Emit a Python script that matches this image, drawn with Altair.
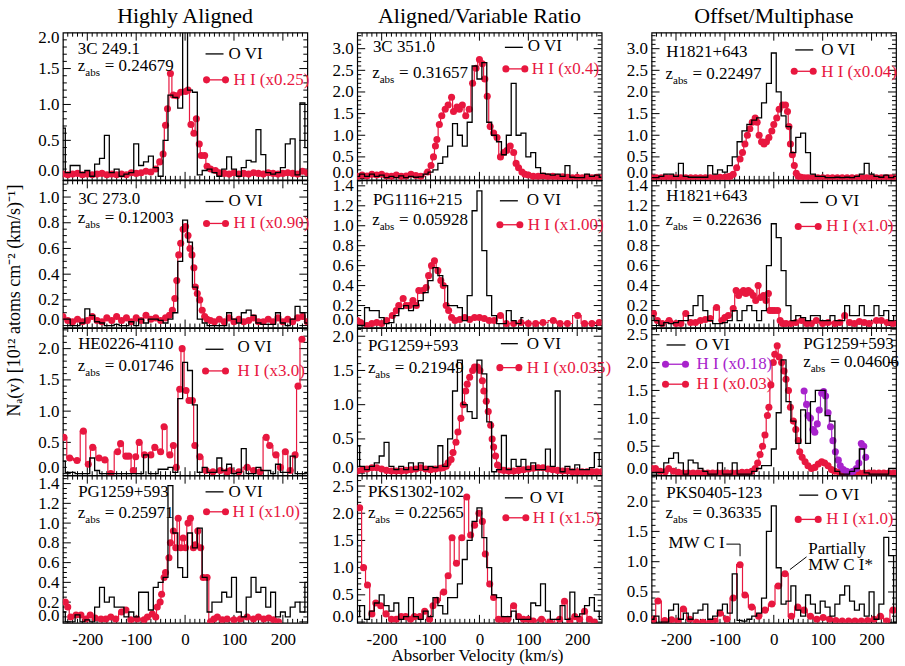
import altair as alt
import pandas as pd

FONT = "Liberation Serif"
RED = "#e8173f"
PURPLE = "#a823cc"
W, H = 245, 147.5
FS = 17
DOT = 50

V10 = list(range(-250, 251, 10))
X_LABELS = [-200, -100, 0, 100, 200]
X_MINOR = [v for v in range(-240, 250, 10) if v % 100 != 0]
COL_TITLES = ["Highly Aligned", "Aligned/Variable Ratio", "Offset/Multiphase"]
X_TITLE = "Absorber Velocity (km/s)"
Y_TITLE = "Nₐ(v) [10¹² atoms cm⁻² (km/s)⁻¹]"

# ---------------- O VI (10 km/s bins, v = -250 ... 250) ----------------
OVI_11 = [0.67, 0.05, 0.15, 0.15, 0.05, 0.08, 0.00, 0.17, 0.25, 0.57,
          0.05, 0.10, 0.00, 0.03, 0.05, 0.45, 0.15, 0.20, 0.28, 0.12,
          0.00, 0.50, 1.13, 1.10, 0.95, 2.20, 1.20, 1.17, 0.02, 0.08,
          0.10, 0.05, 0.00, 0.10, 0.27, 0.10, 0.00, 0.12, 0.22, 0.20,
          0.65, 0.30, 0.05, 0.03, 0.05, 0.12, 0.45, 0.52, 0.02, 1.02, 0.40]
OVI_12 = [0.05, 0.10, 0.05, 0.10, 0.05, 0.08, 0.02, 0.05, 0.02, 0.06,
          0.02, 0.05, 0.03, 0.04, 0.10, 0.15, 0.20, 0.35, 0.50, 0.75,
          1.27, 1.00, 0.75, 1.30, 2.60, 2.30, 2.68, 1.30, 1.00, 0.85,
          0.55, 1.00, 2.20, 1.00, 1.05, 0.50, 0.60, 0.25, 0.12, 0.10,
          0.08, 0.10, 0.05, 0.30, 0.03, 0.02, 0.02, 0.10, 0.05, 0.08, 0.03]
OVI_13 = [0.02, 0.02, 0.05, 0.10, 0.10, 0.05, 0.35, 0.05, 0.03, 0.03,
          0.03, 0.03, 0.30, 0.10, 0.20, 0.15, 0.30, 0.50, 0.85, 1.10,
          1.25, 1.35, 1.40, 1.75, 2.20, 2.90, 2.00, 1.45, 1.20, 0.60,
          0.95, 1.05, 0.60, 0.10, 0.05, 0.05, 0.02, 0.02, 0.03, 0.02,
          0.03, 0.02, 0.05, 0.10, 0.35, 0.10, 0.05, 0.03, 0.08, 0.02, 0.05]
OVI_21 = [0.05, 0.05, 0.00, 0.00, 0.02, 0.13, 0.08, 0.03, 0.02, 0.00,
          0.00, 0.01, 0.00, 0.00, 0.03, 0.00, 0.05, 0.02, 0.05, 0.05,
          0.04, 0.02, 0.05, 0.10, 0.50, 0.82, 0.65, 0.30, 0.05, 0.02,
          0.00, 0.00, 0.00, 0.00, 0.10, 0.05, 0.02, 0.10, 0.12, 0.08,
          0.02, 0.01, 0.01, 0.01, 0.10, 0.02, 0.00, 0.05, 0.15, 0.10, 0.02]
OVI_22 = [0.00, 0.00, 0.18, 0.15, 0.15, 0.08, 0.02, 0.03, 0.10, 0.17,
          0.20, 0.15, 0.20, 0.25, 0.33, 0.45, 0.58, 0.50, 0.40, 0.20,
          0.20, 0.18, 0.05, 0.30, 1.15, 1.35, 0.75, 0.30, 0.10, 0.02,
          0.02, 0.15, 0.05, 0.02, 0.08]
OVI_23 = [0.10, 0.05, 0.00, 0.03, 0.02, 0.03, 0.05, 0.05, 0.10, 0.20,
          0.30, 0.15, 0.05, 0.02, 0.02, 0.03, 0.05, 0.15, 0.05, 0.15,
          0.20, 0.15, 0.05, 0.15, 0.60, 1.02, 0.88, 0.55, 0.20, 0.05,
          0.10, 0.08, 0.05, 0.10, 0.10, 0.05, 0.05, 0.10, 0.05, 0.05,
          0.20, 0.10, 0.10, 0.20, 0.10, 0.10, 0.20, 0.10, 0.15, 0.05, 0.10]
OVI_31 = [0.20, 0.02, 0.02, 0.00, 0.00, 0.00, 0.25, 0.05, 0.00, 0.00,
          0.00, 0.00, 0.00, 0.00, 0.00, 0.00, 0.00, 0.30, 0.00, 0.00,
          0.07, 0.07, 0.10, 0.02, 1.20, 1.78, 1.65, 1.10, 0.02, 0.10,
          0.02, 0.02, 0.25, 0.05, 0.15, 0.00, 0.02, 0.40, 0.00, 0.00,
          0.10, 0.05, 0.05, 0.00, 0.15, 0.02, 0.02, 0.28, 0.00, 0.00, 0.02]
OVI_32 = [0.40, 0.10, 0.05, 0.10, 0.15, 0.25, 0.45, 0.10, 0.05, 0.10,
          0.05, 0.15, 0.05, 0.15, 0.05, 0.10, 0.08, 0.40, 0.10, 0.50,
          1.20, 1.65, 1.00, 0.90, 0.80, 1.65, 1.45, 0.75, 0.02, 0.05,
          0.55, 0.05, 0.20, 0.10, 0.20, 0.05, 0.15, 0.05, 0.05, 0.35,
          0.10, 1.20, 0.02, 0.10, 0.05, 0.12, 0.05, 0.05, 0.08, 0.30, 0.10]
OVI_33 = [0.03, 0.03, 0.03, 0.20, 0.28, 0.38, 0.20, 0.00, 0.25, 0.20,
          0.10, 0.05, 0.00, 0.00, 0.20, 0.00, 0.00, 0.20, 0.00, 0.00,
          0.00, 0.05, 0.10, 0.15, 0.15, 0.45, 1.10, 2.05, 1.30, 0.95,
          0.55, 1.15, 0.55, 1.30, 1.50, 1.50, 1.05, 0.95, 0.05, 0.00,
          0.00, 0.05, 0.10, 0.45, 0.02, 0.00, 0.00, 0.00, 0.00, 0.10, 0.10]
OVI_41 = [0.10, 0.00, 0.00, 0.07, 0.00, 0.02, 0.00, 0.15, 0.35, 0.20,
          0.25, 0.15, 0.15, 0.05, 0.10, 0.05, 0.30, 0.30, 0.12, 0.35,
          0.40, 0.45, 1.38, 0.90, 0.55, 0.45, 0.90, 0.75, 0.95, 0.45,
          0.10, 0.20, 0.20, 0.30, 0.25, 0.45, 0.10, 0.05, 0.25, 0.45,
          0.30, 0.35, 0.15, 0.30, 0.05, 0.10, 0.05, 0.15, 0.20, 0.10, 0.40]
OVI_42 = [0.10, 0.30, 0.05, 0.20, 0.35, 0.50, 0.30, 0.20, 0.35, 0.05,
          0.10, 0.45, 0.10, 0.05, 0.20, 0.10, 0.45, 0.30, 0.15, 0.45,
          0.45, 0.70, 1.15, 1.50, 1.85, 2.10, 1.55, 1.00, 0.50, 0.45,
          0.10, 0.10, 0.20, 0.05, 0.05, 0.05, 0.35, 0.30, 0.70, 0.20,
          0.05, 0.05, 0.30, 0.05, 0.55, 0.10, 0.15, 0.30, 0.45, 0.20, 0.05]
OVI_43 = [0.05, 0.10, 0.00, 0.00, 0.20, 0.30, 0.05, 0.15, 0.05, 0.15,
          0.20, 0.30, 0.05, 0.10, 0.20, 0.30, 0.15, 0.80, 0.03, 0.02,
          0.05, 0.10, 0.15, 0.40, 1.50, 1.92, 0.90, 0.30, 0.35, 0.60,
          0.20, 0.10, 0.45, 0.30, 0.15, 0.35, 0.25, 0.10, 0.30, 0.45,
          0.60, 0.35, 0.20, 0.30, 0.10, 0.50, 0.05, 0.30, 1.40, 1.10, 0.00]

# ---------------- H I (velocity, scaled N) ----------------
HI_11 = [(-250, 0.03), (-240, 0.02), (-230, 0.03), (-220, 0.04), (-210, 0.02), (-200, 0.03),
         (-190, 0.02), (-180, 0.03), (-170, 0.04), (-160, 0.02), (-150, 0.03), (-140, 0.02),
         (-130, 0.03), (-120, 0.02), (-110, 0.05), (-100, 0.04), (-90, 0.05), (-80, 0.07),
         (-70, 0.06), (-60, 0.10), (-52, 0.20), (-45, 0.31), (-40, 0.71), (-36, 0.94),
         (-30, 1.43), (-24, 1.13), (-17, 1.12), (-9, 1.17), (1, 1.18), (6, 1.20), (12, 0.72),
         (18, 0.60), (23, 0.80), (29, 0.45), (33, 0.29), (40, 0.29), (45, 0.14), (52, 0.10),
         (62, 0.08), (70, 0.05), (80, 0.04), (90, 0.03), (100, 0.05), (110, 0.03), (120, 0.04),
         (130, 0.03), (140, 0.05), (150, 0.04), (160, 0.03), (170, 0.05), (180, 0.04),
         (190, 0.03), (200, 0.04), (210, 0.05), (220, 0.04), (230, 0.03), (240, 0.07), (250, 0.05)]
HI_12 = [(-250, 0.05), (-240, 0.08), (-230, 0.06), (-220, 0.10), (-210, 0.08), (-200, 0.10),
         (-190, 0.06), (-180, 0.05), (-170, 0.08), (-160, 0.05), (-150, 0.06), (-140, 0.10),
         (-130, 0.07), (-120, 0.05), (-106, 0.15), (-99, 0.30), (-94, 0.50), (-90, 0.75),
         (-87, 0.90), (-82, 1.25), (-77, 1.45), (-70, 1.60), (-64, 1.70), (-57, 1.88),
         (-53, 1.55), (-46, 1.65), (-41, 1.60), (-35, 1.70), (-28, 1.45), (-21, 1.60),
         (-14, 2.20), (-7, 2.55), (0, 2.75), (6, 2.65), (11, 2.30), (16, 1.90), (22, 1.20),
         (29, 1.05), (36, 0.95), (43, 0.50), (50, 0.60), (56, 0.65), (63, 0.75), (70, 0.60),
         (75, 0.35), (80, 0.25), (87, 0.15), (93, 0.10), (100, 0.08), (110, 0.05), (120, 0.05),
         (130, 0.06), (140, 0.04), (150, 0.05), (160, 0.03), (170, 0.04), (180, 0.03),
         (190, 0.02), (200, 0.03), (210, 0.02), (220, 0.03), (230, 0.02), (240, 0.03), (250, 0.02)]
HI_13 = [(-250, 0.02), (-240, 0.02), (-230, 0.02), (-220, 0.02), (-210, 0.02), (-200, 0.02),
         (-190, 0.02), (-180, 0.02), (-170, 0.02), (-160, 0.02), (-150, 0.02), (-140, 0.02),
         (-130, 0.02), (-120, 0.02), (-110, 0.03), (-100, 0.03), (-94, 0.04), (-89, 0.05),
         (-83, 0.10), (-76, 0.25), (-69, 0.45), (-64, 0.60), (-59, 0.80), (-54, 1.00),
         (-49, 1.15), (-44, 1.30), (-38, 1.40), (-34, 1.30), (-30, 1.00), (-25, 0.85),
         (-20, 0.80), (-15, 0.85), (-10, 0.95), (-4, 1.10), (0, 1.25), (6, 1.40), (11, 1.60),
         (18, 1.70), (24, 1.70), (28, 1.55), (31, 1.20), (34, 0.80), (38, 0.55), (42, 0.30),
         (46, 0.12), (50, 0.05), (56, 0.03), (63, 0.02), (70, 0.02), (80, 0.02), (90, 0.02),
         (100, 0.02), (110, 0.02), (120, 0.02), (130, 0.02), (140, 0.02), (150, 0.02),
         (160, 0.02), (170, 0.02), (180, 0.02), (190, 0.02), (200, 0.02), (210, 0.02),
         (220, 0.02), (230, 0.02), (240, 0.02), (250, 0.02)]
HI_21 = [(-250, 0.07), (-240, 0.04), (-230, 0.03), (-220, 0.05), (-210, 0.03), (-200, 0.04),
         (-190, 0.07), (-180, 0.04), (-170, 0.03), (-160, 0.06), (-150, 0.04), (-140, 0.07),
         (-130, 0.04), (-120, 0.06), (-110, 0.03), (-100, 0.06), (-90, 0.04), (-80, 0.08),
         (-70, 0.05), (-60, 0.06), (-50, 0.04), (-40, 0.06), (-32, 0.08), (-26, 0.12),
         (-21, 0.21), (-17, 0.35), (-13, 0.55), (-9, 0.64), (-4, 0.75), (1, 0.77), (6, 0.70),
         (10, 0.60), (14, 0.55), (18, 0.45), (21, 0.30), (25, 0.25), (30, 0.20), (35, 0.12),
         (40, 0.07), (45, 0.05), (52, 0.04), (60, 0.03), (70, 0.05), (80, 0.03), (90, 0.06),
         (100, 0.03), (110, 0.05), (120, 0.03), (130, 0.04), (140, 0.06), (150, 0.03),
         (160, 0.03), (170, 0.05), (180, 0.03), (190, 0.06), (200, 0.03), (210, 0.05),
         (220, 0.03), (230, 0.06), (240, 0.07), (250, 0.03)]
HI_22 = [(-250, 0.05), (-243, 0.03), (-230, 0.00), (-220, 0.02), (-210, 0.03), (-200, 0.02),
         (-190, 0.05), (-178, 0.10), (-170, 0.15), (-165, 0.20), (-156, 0.27), (-150, 0.20),
         (-143, 0.20), (-136, 0.25), (-129, 0.20), (-124, 0.35), (-116, 0.35), (-109, 0.38),
         (-104, 0.50), (-98, 0.60), (-92, 0.65), (-85, 0.55), (-79, 0.45), (-74, 0.40),
         (-68, 0.20), (-63, 0.15), (-57, 0.08), (-50, 0.05), (-40, 0.06), (-30, 0.08),
         (-20, 0.06), (-10, 0.08), (0, 0.08), (10, 0.07), (20, 0.05), (30, 0.05), (43, 0.10),
         (55, 0.02), (70, 0.02), (85, 0.03), (100, 0.02), (115, 0.02), (130, 0.03), (151, 0.05),
         (165, 0.02), (180, 0.02), (201, 0.10), (215, 0.02), (230, 0.02), (245, 0.03)]
HI_23 = [(-246, 0.12), (-238, 0.05), (-228, 0.02), (-214, 0.05), (-200, 0.02), (-190, 0.02),
         (-180, 0.12), (-170, 0.03), (-160, 0.03), (-150, 0.05), (-140, 0.06), (-130, 0.07),
         (-117, 0.18), (-106, 0.05), (-100, 0.08), (-93, 0.10), (-83, 0.17), (-77, 0.35),
         (-72, 0.30), (-67, 0.33), (-62, 0.35), (-57, 0.32), (-52, 0.35), (-47, 0.33),
         (-42, 0.30), (-37, 0.25), (-32, 0.40), (-27, 0.28), (-21, 0.30), (-16, 0.25),
         (-11, 0.32), (-8, 0.15), (-3, 0.15), (2, 0.15), (8, 0.15), (13, 0.05), (18, 0.02),
         (25, 0.02), (35, 0.02), (45, 0.03), (57, 0.05), (67, 0.02), (77, 0.02), (87, 0.05),
         (100, 0.02), (111, 0.03), (125, 0.02), (135, 0.03), (145, 0.10), (155, 0.03),
         (165, 0.02), (175, 0.04), (185, 0.03), (195, 0.02), (210, 0.05), (220, 0.05),
         (232, 0.03), (244, 0.02)]
HI_31 = [(-248, 0.58), (-236, 0.25), (-221, 0.21), (-208, 0.68), (-198, 0.15), (-189, 0.42),
         (-176, 0.25), (-164, 0.22), (-152, 0.00), (-138, 0.35), (-132, 0.48), (-121, 0.28),
         (-115, 0.28), (-106, 0.05), (-101, 0.27), (-94, 0.50), (-83, 0.30), (-70, 0.30),
         (-62, 0.42), (-50, 0.35), (-43, 0.75), (-31, 0.30), (-24, 0.45), (-18, 0.10),
         (-11, 1.35), (-6, 2.00), (2, 1.33), (8, 1.17), (15, 1.17), (20, 0.45), (30, 0.27),
         (43, 0.05), (57, 0.03), (72, 0.05), (86, 0.03), (93, 0.05), (110, 0.03), (127, 0.10),
         (140, 0.05), (153, 0.03), (166, 0.58), (173, 0.45), (186, 0.30), (195, 0.10),
         (205, 0.35), (215, 0.05), (225, 0.30), (231, 1.40), (239, 2.15)]
HI_32 = [(-250, 0.03), (-240, 0.05), (-230, 0.06), (-220, 0.08), (-210, 0.08), (-200, 0.06),
         (-190, 0.04), (-180, 0.03), (-170, 0.03), (-160, 0.03), (-150, 0.04), (-140, 0.05),
         (-130, 0.06), (-120, 0.08), (-110, 0.06), (-100, 0.05), (-90, 0.06), (-80, 0.07),
         (-74, 0.08), (-68, 0.10), (-64, 0.15), (-58, 0.20), (-54, 0.30), (-48, 0.45),
         (-44, 0.60), (-38, 0.80), (-33, 1.00), (-28, 1.20), (-25, 1.30), (-20, 1.40),
         (-14, 1.50), (-10, 1.55), (-4, 1.55), (1, 1.50), (6, 1.35), (9, 1.20), (14, 1.05),
         (18, 0.90), (23, 0.70), (26, 0.50), (29, 0.38), (33, 0.25), (37, 0.12), (43, 0.05),
         (50, 0.04), (60, 0.03), (70, 0.03), (80, 0.04), (90, 0.05), (100, 0.06), (110, 0.07),
         (120, 0.08), (130, 0.08), (140, 0.06), (150, 0.05), (160, 0.04), (170, 0.03),
         (180, 0.03), (190, 0.02), (200, 0.02), (210, 0.02), (220, 0.02), (230, 0.02),
         (240, 0.02), (250, 0.02)]
HI_33 = [(-250, 0.10), (-242, 0.10), (-232, 0.05), (-222, 0.04), (-215, 0.10), (-205, 0.05),
         (-195, 0.03), (-185, 0.02), (-175, 0.02), (-165, 0.02), (-155, 0.02), (-145, 0.02),
         (-135, 0.02), (-125, 0.02), (-115, 0.02), (-105, 0.02), (-95, 0.02), (-85, 0.02),
         (-75, 0.02), (-65, 0.03), (-55, 0.03), (-45, 0.05), (-38, 0.10), (-33, 0.20),
         (-28, 0.35), (-23, 0.50), (-18, 0.70), (-13, 1.05), (-10, 1.20), (-6, 1.60),
         (-1, 2.00), (2, 2.15), (7, 2.30), (11, 2.10), (16, 2.00), (21, 1.85), (25, 1.70),
         (30, 1.50), (34, 1.20), (40, 0.95), (45, 0.80), (50, 0.60), (53, 0.40), (58, 0.30),
         (64, 0.22), (70, 0.15), (77, 0.10), (84, 0.12), (91, 0.18), (98, 0.22), (104, 0.20),
         (111, 0.15), (118, 0.08), (125, 0.05), (135, 0.03), (145, 0.02), (155, 0.02),
         (165, 0.02), (175, 0.02), (185, 0.02), (195, 0.02), (205, 0.02), (215, 0.02),
         (225, 0.02), (235, 0.02), (245, 0.02)]
HI_33_PURPLE = [(62, 1.49), (67, 1.25), (70, 1.05), (75, 1.00), (80, 0.80), (84, 0.75), (89, 0.90),
                (93, 1.15), (98, 1.45), (102, 1.48), (106, 1.40), (111, 1.10), (116, 0.85),
                (121, 0.60), (126, 0.40), (132, 0.25), (136, 0.15), (142, 0.08), (149, 0.05),
                (157, 0.03), (162, 0.05), (169, 0.10), (174, 0.20), (179, 0.55), (184, 0.50),
                (188, 0.30)]
HI_41 = [(-245, 0.20), (-240, 0.15), (-234, 0.05), (-223, 0.07), (-213, 0.07), (-203, 0.03),
         (-194, 0.07), (-184, 0.04), (-172, 0.03), (-162, 0.03), (-152, 0.05), (-142, 0.03),
         (-130, 0.10), (-121, 0.12), (-111, 0.02), (-98, 0.03), (-84, 0.02), (-77, 0.05),
         (-67, 0.08), (-60, 0.05), (-57, 0.15), (-51, 0.20), (-48, 0.28), (-43, 0.45),
         (-40, 0.50), (-33, 0.65), (-30, 0.80), (-24, 0.92), (-19, 0.75), (-14, 1.05),
         (-9, 0.75), (-4, 0.85), (1, 0.75), (6, 1.00), (11, 1.05), (17, 0.75), (21, 0.78),
         (26, 0.92), (32, 0.75), (37, 0.45), (45, 0.45), (52, 0.00), (59, 0.03), (66, 0.05),
         (76, 0.02), (86, 0.03), (100, 0.02), (113, 0.03), (127, 0.05), (140, 0.03), (150, 0.05),
         (161, 0.03), (171, 0.04), (181, 0.02), (191, 0.00)]
HI_42 = [(-245, 2.10), (-237, 1.00), (-229, 0.68), (-220, 0.15), (-212, 0.35), (-202, 0.30),
         (-191, 0.15), (-180, 0.05), (-170, 0.05), (-160, 0.10), (-151, 0.10), (-141, 0.05),
         (-133, 0.10), (-122, 0.10), (-112, 0.20), (-102, 0.05), (-95, 0.30), (-87, 0.40),
         (-73, 0.55), (-64, 0.85), (-56, 1.55), (-47, 1.08), (-36, 1.55), (-26, 2.30),
         (-18, 1.60), (-10, 1.78), (-1, 2.00), (6, 1.85), (12, 1.25), (21, 0.70), (29, 0.45),
         (39, 0.05), (48, 0.05), (58, 0.05), (70, 0.30), (80, 0.10), (90, 0.05), (100, 0.05),
         (110, 0.02), (127, 0.05), (144, 0.00), (164, 0.05), (174, 0.38), (185, 0.02),
         (195, 0.10), (205, 0.05), (215, 0.20), (225, 0.05), (235, 0.00)]
HI_43 = [(-246, 0.05), (-237, 0.35), (-223, 0.03), (-209, 0.04), (-196, 0.02), (-185, 0.22),
         (-172, 0.05), (-158, 0.00), (-145, 0.00), (-131, 0.00), (-120, 0.02), (-110, 0.15),
         (-96, 0.05), (-83, 0.40), (-69, 0.95), (-59, 0.45), (-45, 0.25), (-31, 0.10),
         (-18, 0.20), (-4, 0.30), (9, 0.60), (23, 0.80), (36, 0.10), (49, 0.25), (62, 0.20),
         (75, 0.10), (88, 0.05), (101, 0.08), (114, 0.05), (127, 0.03), (140, 0.02),
         (153, 0.02), (166, 0.02), (179, 0.02), (192, 0.03), (205, 0.05), (218, 0.10),
         (231, 0.02), (244, 0.20)]

# annotation leader lines in PKS0405-123 panel (velocity, N)
MW_CI_BRACKET = [(-97, 1.29), (-69, 1.29), (-69, 1.09)]
MW_CIS_LEADER = [(67, 1.08), (33, 0.87)]

# ---------------- panel definitions ----------------
def P(name, z, ovi, hi, ydom, ystep, ytop, name_xy, z_xy, ovi_leg, hi_legs, extra=None):
    return dict(name=name, z=z, ovi=ovi, hi=hi, ydom=ydom, ystep=ystep, ytop=ytop,
                name_xy=name_xy, z_xy=z_xy, ovi_leg=ovi_leg, hi_legs=hi_legs, extra=extra)

PANELS = [
    [P("3C 249.1", "0.24679", OVI_11, [(HI_11, RED)], (-0.05, 2.0), 0.5, 2.0, (15, 21.5), (15, 38),
       (143, 161, 21.3, 166, 26.3), [("H I (x0.25)", RED, (144, 163, 47.3, 171, 52.3))]),
     P("3C 351.0", "0.31657", OVI_12, [(HI_12, RED)], (-0.03, 3.37), 0.5, 3.0, (15.7, 19.7), (15, 45),
       (148, 166, 14.7, 171, 18.7), [("H I (x0.4)", RED, (149, 168, 36.3, 175, 41.3))]),
     P("H1821+643", "0.22497", OVI_13, [(HI_13, RED)], (-0.03, 3.37), 0.5, 3.0, (14.7, 24), (14, 46.3),
       (144, 162, 17.3, 170, 22.3), [("H I (x0.04)", RED, (143, 162, 38.7, 170, 44))])],
    [P("3C 273.0", "0.12003", OVI_21, [(HI_21, RED)], (-0.015, 1.13), 0.2, 1.0, (15.3, 23.8), (15, 43.2),
       (143, 161, 21.2, 166, 26.2), [("H I (x0.90)", RED, (144, 163, 43.2, 171, 47.8))]),
     P("PG1116+215", "0.05928", OVI_22, [(HI_22, RED)], (-0.02, 1.455), 0.2, 1.4, (15.7, 24.8), (15, 44.5),
       (143, 161, 20.5, 170, 24.8), [("H I (x1.00)", RED, (143, 163, 44.5, 171, 49.5))]),
     P("H1821+643", "0.22636", OVI_23, [(HI_23, RED)], (-0.02, 1.455), 0.2, 1.4, (14.7, 20.5), (14, 44.5),
       (149, 167, 22.2, 174, 25.5), [("H I (x1.0)", RED, (147, 167, 46.2, 175, 51.2))])],
    [P("HE0226-4110", "0.01746", OVI_31, [(HI_31, RED)], (-0.025, 2.33), 0.5, 2.0, (15.3, 21.3), (15, 43),
       (143, 161, 21.3, 175, 23.7), [("H I (x3.0)", RED, (143, 163, 43, 175, 48))]),
     P("PG1259+593", "0.21949", OVI_32, [(HI_32, RED)], (-0.03, 2.12), 0.5, 2.0, (10.7, 23), (10.7, 44.7),
       (144, 161, 15.7, 170, 21.3), [("H I (x0.035)", RED, (143, 162, 39.7, 170, 45.3))]),
     P("PG1259+593", "0.04606", OVI_33, [(HI_33, RED), (HI_33_PURPLE, PURPLE)], (-0.02, 2.62), 0.5, 2.5,
       (152, 21.3), (152, 39), (15, 34, 17, 44, 22),
       [("H I (x0.18)", PURPLE, (14, 34, 36.3, 45, 40.7)), ("H I (x0.03)", RED, (14, 34, 56.3, 45, 61.3))])],
    [P("PG1259+593", "0.25971", OVI_41, [(HI_41, RED)], (-0.01, 1.48), 0.2, 1.4, (15.3, 21.5), (15, 42.2),
       (143, 161, 16.2, 166, 21.2), [("H I (x1.0)", RED, (144, 163, 36.2, 170, 41.2))]),
     P("PKS1302-102", "0.22565", OVI_42, [(HI_42, RED)], (-0.015, 2.69), 0.5, 2.5, (10.7, 21.5), (10.7, 42.2),
       (148, 166, 22.2, 173, 27.2), [("H I (x1.5)", RED, (149, 169, 42.2, 176, 47.2))]),
     P("PKS0405-123", "0.36335", OVI_43, [(HI_43, RED)], (-0.01, 2.42), 0.5, 2.0, (14.7, 22.2), (14, 42.8),
       (148, 167, 19.5, 174, 24.5), [("H I (x1.0)", RED, (147, 167, 43.8, 175, 48.8))], extra="mw")],
]

DUMMY = pd.DataFrame({"d": [0]})


def txt(x, y, s, size=FS, color="black", align="left", angle=None):
    kw = dict(text=s, font=FONT, fontSize=size, color=color, align=align, baseline="alphabetic")
    if angle is not None:
        kw["angle"] = angle
    return alt.Chart(DUMMY).mark_text(**kw).encode(x=alt.value(x), y=alt.value(y))


def seg(x1, x2, y, color):
    return alt.Chart(DUMMY).mark_rule(color=color, strokeWidth=1.3).encode(
        x=alt.value(x1), x2=alt.value(x2), y=alt.value(y))


def dot(x, y, color):
    return alt.Chart(DUMMY).mark_circle(size=DOT, color=color, opacity=1).encode(
        x=alt.value(x), y=alt.value(y))


def make_panel(p, row, col):
    xs = alt.Scale(domain=[-250, 250], nice=False, zero=False)
    ys = alt.Scale(domain=list(p["ydom"]), nice=False, zero=False)
    nmaj = int(round(p["ytop"] / p["ystep"]))
    yvals = [round(i * p["ystep"], 2) for i in range(nmaj + 1)]
    yaxis = alt.Axis(values=yvals, format=".1f", title=None, ticks=False, domain=False, grid=False,
                     labelFont=FONT, labelFontSize=FS, labelColor="black", labelPadding=4,
                     labelFlush=4, labelFlushOffset=3, labelOverlap=False)
    if row == 3:
        xaxis = alt.Axis(values=X_LABELS, labelExpr="'' + datum.value", title=None, ticks=False,
                         domain=False, grid=False, labelFont=FONT, labelFontSize=FS,
                         labelColor="black", labelPadding=9, labelFlush=False, labelOverlap=False)
    else:
        xaxis = None
    X = alt.X("v:Q", scale=xs, axis=xaxis)
    Y = alt.Y("n:Q", scale=ys, axis=yaxis)

    layers = []
    dov = pd.DataFrame({"v": V10[:len(p["ovi"])], "n": p["ovi"]})
    ovi_layer = alt.Chart(dov).mark_line(interpolate="step", color="black", strokeWidth=1.3,
                                         clip=True).encode(x=X, y=Y)

    # frame ticks (inward)
    def xt(vals, length, top):
        d = pd.DataFrame({"v": vals})
        y0, y1 = (0, length) if top else (H, H - length)
        return alt.Chart(d).mark_rule(color="black", strokeWidth=1).encode(
            x=X, y=alt.value(y0), y2=alt.value(y1))

    def yt(vals, length, right):
        d = pd.DataFrame({"n": vals})
        x0, x1 = (W, W - length) if right else (0, length)
        return alt.Chart(d).mark_rule(color="black", strokeWidth=1).encode(
            y=Y, x=alt.value(x0), x2=alt.value(x1))

    ms = p["ystep"] / (5 if p["ystep"] == 0.5 else 4)
    yminor = []
    k = 1
    while k * ms <= p["ydom"][1] + 1e-9:
        v = round(k * ms, 3)
        r = v / p["ystep"]
        if abs(r - round(r)) > 1e-6:
            yminor.append(v)
        k += 1
    ymajor = [v for v in yvals if v < p["ydom"][1] - 1e-6]

    layers += [xt(X_LABELS, 8, True), xt(X_LABELS, 8, False),
               xt(X_MINOR, 4, True), xt(X_MINOR, 4, False),
               yt(ymajor, 8, False), yt(ymajor, 8, True),
               yt(yminor, 4, False), yt(yminor, 4, True)]

    for series, color in p["hi"]:
        d = pd.DataFrame(series, columns=["v", "n"])
        layers.append(alt.Chart(d).mark_line(interpolate="step", color=color, strokeWidth=1.2,
                                             clip=True).encode(x=X, y=Y))
        layers.append(alt.Chart(d).mark_circle(size=DOT, color=color, opacity=1,
                                               clip=True).encode(x=X, y=Y))
    layers.append(ovi_layer)

    nx, ny = p["name_xy"]
    layers.append(txt(nx, ny, p["name"]))
    zx, zy = p["z_xy"]
    layers.append(txt(zx, zy, "z"))
    layers.append(txt(zx + 7.5, zy + 5, "abs", size=11))
    layers.append(txt(zx + 27, zy, "= " + p["z"]))
    x1, x2, ly, tx, ty = p["ovi_leg"]
    layers.append(seg(x1, x2, ly, "black"))
    layers.append(txt(tx, ty, "O VI"))
    for lab, color, (x1, x2, ly, tx, ty) in p["hi_legs"]:
        layers.append(seg(x1, x2, ly, color))
        layers.append(dot(x1, ly, color))
        layers.append(dot(x2, ly, color))
        layers.append(txt(tx, ty, lab, color=color))

    if p["extra"] == "mw":
        b = pd.DataFrame(MW_CI_BRACKET, columns=["v", "n"])
        b["o"] = range(len(b))
        layers.append(alt.Chart(b).mark_line(color="black", strokeWidth=1).encode(
            x=X, y=Y, order="o:Q"))
        l2 = pd.DataFrame(MW_CIS_LEADER, columns=["v", "n"])
        l2["o"] = range(len(l2))
        layers.append(alt.Chart(l2).mark_line(color="black", strokeWidth=1).encode(
            x=X, y=Y, order="o:Q"))
        layers.append(txt(17, 72.2, "MW C I"))
        layers.append(txt(157, 78.2, "Partially"))
        layers.append(txt(157, 94.8, "MW C I*"))

    if row == 0:
        layers.append(txt(W / 2, -10, COL_TITLES[col], size=22, align="center"))
    if row == 1 and col == 0:
        layers.append(txt(-43, 120.5, Y_TITLE, size=18, align="center", angle=270))
    if row == 3 and col == 1:
        layers.append(txt(120.5, 185.5, X_TITLE, size=FS, align="center"))

    return alt.layer(*layers).properties(width=W, height=H)


cells = [make_panel(PANELS[r][c], r, c) for r in range(4) for c in range(3)]

chart = alt.concat(*cells, columns=3, spacing={"row": 0, "column": 50}, bounds="flush").properties(
    padding={"left": 5, "top": 3, "right": 5, "bottom": 3}, background="white"
).configure_view(stroke="black", strokeWidth=1.2)

chart.save("out.html", embed_options={"renderer": "svg", "actions": False})
